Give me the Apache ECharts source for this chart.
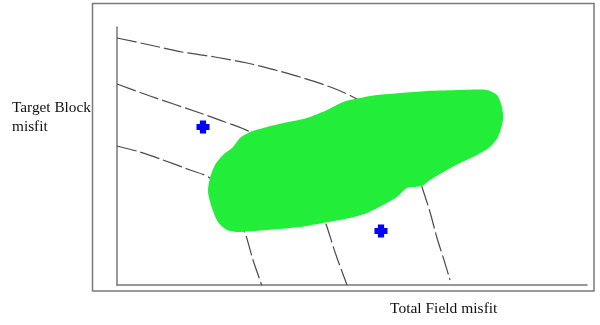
<!DOCTYPE html>
<html>
<head>
<meta charset="utf-8">
<script src="https://cdn.jsdelivr.net/npm/echarts@6/dist/echarts.min.js"></script>
<style>html,body{margin:0;padding:0;background:#fff;}#c{width:600px;height:325px;}</style>
</head>
<body>
<div id="c"></div>
<script>
// Unitless misfit space: x = Total Field misfit, y = Target Block misfit
var xLabel = 'Total Field misfit';
var yLabel = ['Target Block', 'misfit'];

var curve1 = [[0,247],[33,240],[65,233],[98,228],[130,222],[158,215],[183,208],[216,197],[238,187],[263,170],[283,145],[298,120],[305,98],[313,73],[320,47],[327,25],[333,5]];
var curve2 = [[0,201],[33,189],[83,172],[108,163],[133,153],[173,125],[198,90],[209,61],[219,30],[230,0]];
var curve3 = [[0,139],[23,133],[46,125],[73,115],[93,107],[113,85],[128,52],[136,25],[145,-1]];

var blob = [[133,153],[150,158],[166,162],[190,167],[210,175],[226,183],[243,187],[260,190],[283,192],[310,194],[343,195],[370,195],[380,190],[385,178],[386,165],[381,148],[373,138],[360,130],[343,122],[330,115],[313,105],[305,99],[290,97],[280,88],[266,80],[250,72],[233,67],[206,62],[183,58],[150,55],[120,53],[110,55],[101,63],[95,77],[91,93],[93,107],[98,120],[106,130],[116,138],[123,147]];

var points = [[86,158],[264,54]];

var chart = echarts.init(document.getElementById('c'), null, {renderer:'canvas'});
var dashLine = function(data){
  return {
    type:'line', data:data, smooth:0.3, symbol:'none', silent:true, z:2,
    lineStyle:{color:'#4a4a4a', width:1.2, type:[20,4]}
  };
};
chart.setOption({
  animation:false,
  grid:{left:117, top:27, right:13, bottom:40},
  xAxis:{type:'value', min:0, max:470, axisLine:{show:true, onZero:false, lineStyle:{color:'#777', width:1.5}},
         axisTick:{show:false}, axisLabel:{show:false}, splitLine:{show:false}},
  yAxis:{type:'value', min:0, max:258, axisLine:{show:true, onZero:false, lineStyle:{color:'#777', width:1.5}},
         axisTick:{show:false}, axisLabel:{show:false}, splitLine:{show:false}},
  graphic:[
    {type:'rect', shape:{x:92.5, y:3.5, width:501.5, height:287.5}, style:{fill:null, stroke:'#7a7a7a', lineWidth:1.5}, z:0},
    {type:'text', left:12, top:98, style:{text:yLabel.join('\n'), font:'15.3px "Liberation Serif"', fill:'#111', lineHeight:19}},
    {type:'text', left:390, top:301, style:{text:xLabel, font:'15.5px "Liberation Serif"', fill:'#111'}}
  ],
  series:[
    dashLine(curve1), dashLine(curve2), dashLine(curve3),
    {
      type:'custom', z:5, silent:true, data:[0],
      renderItem:function(params, api){
        var pts = blob.map(function(p){return api.coord(p);});
        return {type:'polygon', shape:{points:pts, smooth:0.25}, style:{fill:'#22ee3a', stroke:null}};
      }
    },
    {
      type:'scatter', z:6, data:points, symbolSize:13,
      symbol:'path://M2.6,0H7.4V2.6H10V7.4H7.4V10H2.6V7.4H0V2.6H2.6Z',
      itemStyle:{color:'#0000ff', opacity:1}
    }
  ]
});
</script>
</body>
</html>
